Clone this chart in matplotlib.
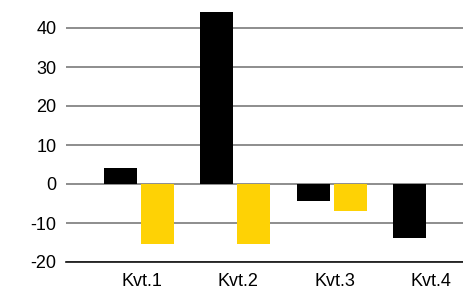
import numpy as np
import matplotlib
matplotlib.use("Agg")
import matplotlib.pyplot as plt

plt.rcParams.update({"font.family": ["Liberation Sans", "DejaVu Sans"], "font.size": 13})

quarters = ["Kvt.1", "Kvt.2", "Kvt.3", "Kvt.4"]
black_vals = [4.2, 44.2, -4.4, -13.9]
yellow_vals = [-15.4, -15.4, -7.0, np.nan]
yticks = [-20, -10, 0, 10, 20, 30, 40]

BLACK, YELLOW, GRID = "#000000", "#FED205", "#7a7a7a"

fig = plt.figure(figsize=(4.64, 2.89), dpi=100)
ax = fig.add_axes([66 / 464, 27 / 289, 1 - 66 / 464, (262 - 4.6) / 289])

x = np.arange(len(quarters))
off, w = 0.192, 0.343
ax.bar(x - off, black_vals, w, color=BLACK, zorder=3)
ax.bar(x + off, yellow_vals, w, color=YELLOW, zorder=3)

ax.set_ylim(-20, 46)
ax.set_xlim(-0.758, 3.375)
ax.set_yticks(yticks)
ax.set_yticklabels([str(t) for t in yticks])
ax.set_xticks(x + 0.03)
ax.set_xticklabels(quarters)
ax.yaxis.grid(True, color=GRID, lw=1.2, zorder=0)
ax.tick_params(length=0)
ax.tick_params(axis="y", pad=7)
ax.tick_params(axis="x", pad=8)
for s in ["top", "right", "left"]:
    ax.spines[s].set_visible(False)
ax.spines["bottom"].set_color("#111111")
ax.spines["bottom"].set_linewidth(1.2)

fig.savefig("out.png", dpi=100)
